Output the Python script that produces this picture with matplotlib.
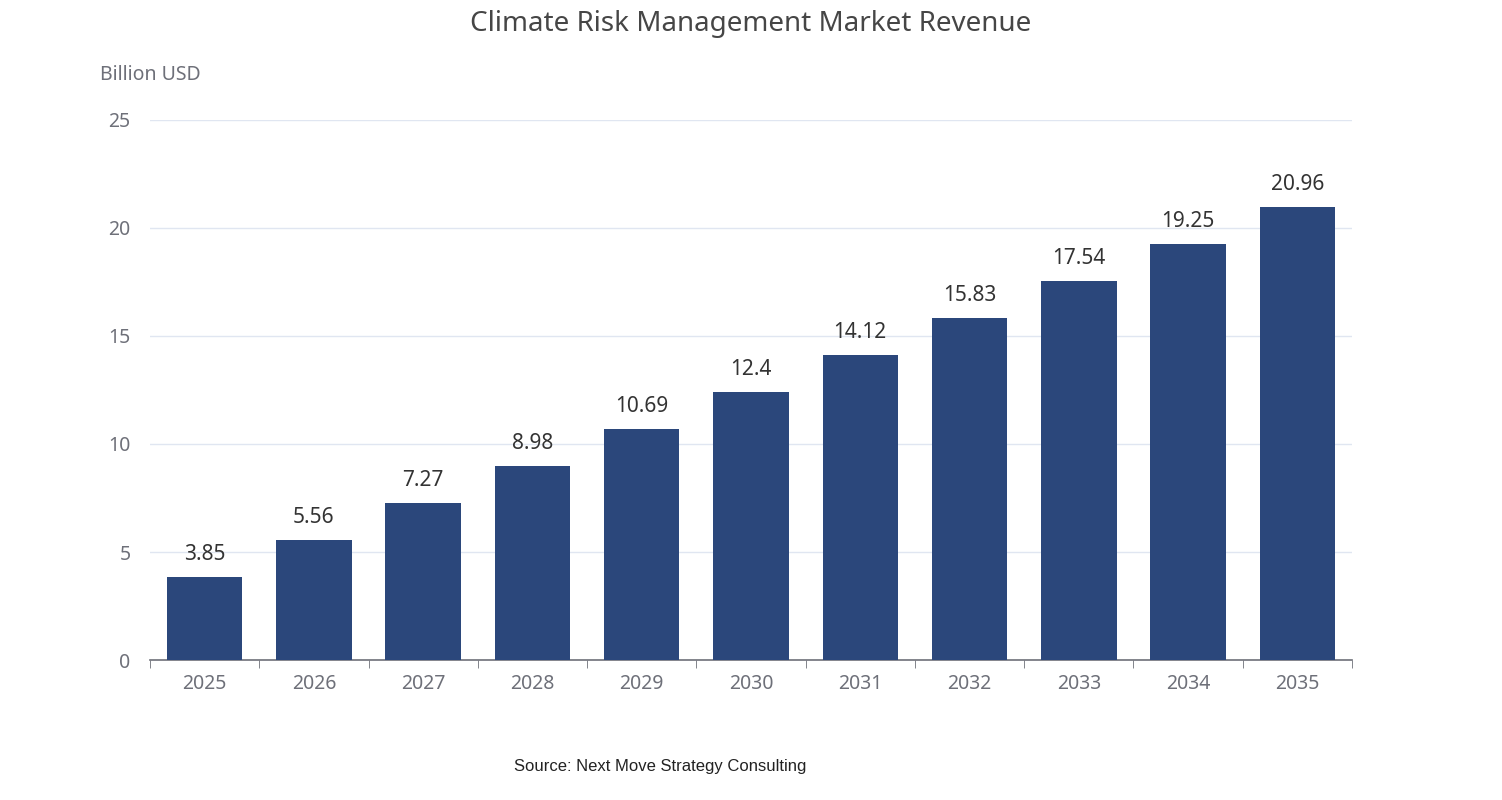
import matplotlib
matplotlib.use("Agg")
import matplotlib.pyplot as plt
import numpy as np

years = ["2025", "2026", "2027", "2028", "2029", "2030", "2031", "2032", "2033", "2034", "2035"]
revenue = [3.85, 5.56, 7.27, 8.98, 10.69, 12.4, 14.12, 15.83, 17.54, 19.25, 20.96]
y_ticks = [0, 5, 10, 15, 20, 25]

plt.rcParams['font.family'] = ['Noto Sans', 'DejaVu Sans']

fig = plt.figure(figsize=(15.02, 8), dpi=100)
ax = fig.add_axes([150/1502, 140/800, 1202/1502, 540/800])

x = np.arange(len(years))
ax.bar(x, revenue, width=0.69, color="#2b477b", zorder=3)
for xi, v in zip(x, revenue):
    ax.text(xi, v + 0.55, f"{v:g}", ha="center", va="bottom", fontsize=15, color="#333333")

ax.set_xlim(-0.5, len(years) - 0.5)
ax.set_ylim(0, 25)
ax.set_yticks(y_ticks)
ax.set_yticklabels([str(t) for t in y_ticks], fontsize=14, color="#6e7079")
ax.set_xticks(x)
ax.set_xticklabels(years, fontsize=14, color="#6e7079")
ax.set_xticks(np.arange(-0.5, len(years)), minor=True)
ax.tick_params(axis="x", which="major", length=0, pad=10)
ax.tick_params(axis="x", which="minor", length=6, color="#6e7079")
ax.tick_params(axis="y", length=0, pad=14)
ax.grid(axis="y", color="#e0e6f1", linewidth=1, zorder=0)
for s in ["top", "right", "left"]:
    ax.spines[s].set_visible(False)
ax.spines["bottom"].set_color("#6e7079")
ax.spines["bottom"].set_linewidth(1.2)

fig.text(150/1502, 1 - 75/800, "Billion USD", ha="center", va="center", fontsize=14, color="#6e7079")
fig.text(0.5, 1 - 24/800, "Climate Risk Management Market Revenue", ha="center", va="center",
         fontsize=20, fontweight="bold", color="#464646")
fig.text(660/1502, 1 - 767/800, "Source: Next Move Strategy Consulting", ha="center", va="center",
         fontsize=12, color="#222222", family="Liberation Sans")

fig.savefig("out.png", dpi=100)
